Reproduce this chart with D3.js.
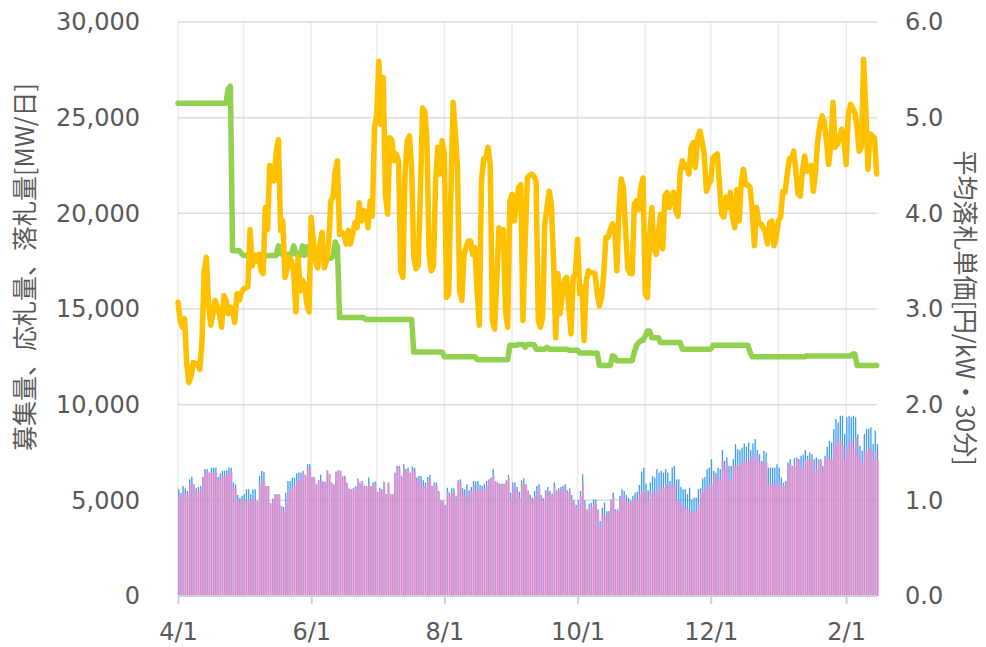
<!DOCTYPE html>
<html><head><meta charset="utf-8">
<script src="https://cdn.jsdelivr.net/npm/d3@7"></script>
<style>body{margin:0;background:#fff}</style>
</head><body><svg id="c" width="986" height="647"></svg>
<script>
// ---------------- DATA ----------------
const startDate = new Date(2021, 3, 1); // 4/1
const leftTicks = [0, 5000, 10000, 15000, 20000, 25000, 30000];
const rightTicks = [0, 1, 2, 3, 4, 5, 6];
const xTickLabels = ["4/1", "6/1", "8/1", "10/1", "12/1", "2/1"];
const leftTitle = "募集量、応札量、落札量[MW/日]";
const rightTitle = "平均落札単価[円/kW・30分]";

// 募集量 [MW/日] (blue bars)
const recruit = [
5580,5400,5750,5630,5490,6100,6220,5840,5630,5700,
5750,6220,6630,6630,6450,6710,6710,6710,6220,6400,
6540,6540,6570,6710,6710,5930,5840,5280,5140,5230,
5320,5580,5580,5320,5580,5580,4970,6280,6540,6500,
5750,5750,4880,5090,5320,5320,5320,4700,4650,5400,
6010,6010,6190,6190,6400,6450,6450,6540,6330,6890,
6890,6220,6220,5840,6050,6330,5980,5960,6570,6360,
5930,5840,6500,6570,6540,6280,6280,5930,5630,5580,
5660,5750,6140,5930,6010,5750,5750,6190,5750,5930,
5980,5450,5660,5580,5980,5320,5930,5320,5320,6450,
6800,6800,6280,6890,6630,6710,6450,6770,6710,6190,
6280,6280,6050,5930,6220,6330,5750,5930,5930,5490,
5000,5000,4760,5660,5400,5630,5630,5230,6050,6100,
5630,5580,5840,5520,5700,6010,5980,6010,5800,5750,
5840,6010,6100,6190,6630,6010,5930,5870,5870,5870,
6050,6330,5400,5930,5930,5700,5450,6050,6150,5840,
5520,5280,5140,5490,5750,5840,5280,5100,5520,5700,
5490,5350,5930,5520,5630,5700,5750,5840,5520,5630,
5280,5000,4760,5000,5490,6360,5000,4530,4830,4880,
5050,5050,4530,3920,4620,4880,4440,4440,5050,5400,
4530,4530,5230,5580,5490,5280,5140,5000,5230,5400,
5450,5800,6500,6710,5870,5520,5930,6280,6190,6630,
6450,6540,6450,6630,6450,6010,6710,6800,6100,6100,
5700,5580,5580,5320,5660,5050,5140,5140,5580,5630,
6150,6220,6630,6710,7150,6540,6450,6710,6630,7620,
7060,7240,6800,6800,7150,7940,7670,7620,7760,7970,
7800,8020,7620,7970,8200,7620,7410,7060,7590,7500,
6710,6710,6710,6710,6890,6710,6190,5930,6010,6980,
7150,6800,7200,7240,7150,7330,7380,7620,7330,7500,
7410,7150,7240,7150,7150,6800,7330,7800,8110,8020,
8720,9250,9070,9420,9420,8460,9340,9420,9340,9420,
9340,8460,7850,7590,8460,8720,8720,8810,7940,8640,
7940
];

// 落札量 [MW/日] (pink bars)
const awarded = [
5230,5140,5490,5400,5320,5840,5930,5660,5450,5490,
5580,6220,6540,6450,6450,6450,6450,6450,6010,6220,
6280,6280,6330,6450,6500,5660,5630,4970,4930,5000,
5000,5000,5050,4970,5140,4970,4930,5750,6100,6010,
5700,5700,4830,5000,5280,5280,5280,4650,4440,4880,
5400,5450,5660,5750,6010,6050,6280,6400,6280,6710,
6710,6190,6150,5750,6050,6010,5980,5930,6570,6360,
5870,5800,6450,6570,6540,6220,6190,5840,5580,5520,
5580,5700,6050,5840,5930,5700,5700,5840,5700,5840,
5930,5400,5580,5520,5930,5320,5930,5320,5320,6400,
6750,6710,6190,6800,6500,6540,6360,6630,6540,6010,
6190,5840,5750,5660,6010,6050,5580,5840,5750,5400,
4970,4970,4700,5490,5230,5400,5450,4970,5930,5930,
5400,5230,5490,5140,5490,5840,5490,5660,5520,5580,
5630,5750,6050,6100,6280,6010,5870,5840,5840,5840,
6010,6190,5140,5660,5630,5450,5140,5840,5930,5750,
5400,5100,4970,5230,5400,5630,5140,4970,5400,5450,
5320,5230,5750,5450,5520,5580,5580,5700,5400,5520,
5050,4830,4580,4830,5230,5930,4790,4440,4620,4650,
4790,4830,4440,3600,4270,4180,4350,4350,5000,5140,
4440,4440,5050,5230,5140,4970,4880,4880,5050,5140,
5000,5320,5400,5490,5490,4970,5400,5490,5350,5490,
5840,5520,5660,5840,5750,5660,5840,5750,4970,4970,
4790,4700,4620,4530,4440,4350,4410,4440,4790,5400,
5490,5580,5660,5750,5840,6360,6280,6010,6100,7060,
6630,6980,6100,6100,6800,6800,6800,6890,6980,7060,
6980,7060,7330,7150,7410,7330,6980,6980,6980,6980,
5840,5840,5840,5840,5840,5930,5700,5750,5930,6890,
6890,6710,6800,7150,7060,6710,6710,7060,7150,7150,
7150,6540,6570,7060,7060,6630,7150,7330,7150,7150,
7850,8200,8110,8110,7850,7150,7760,8110,8110,7670,
8290,7410,7150,6890,7500,7590,7760,7670,7150,7590,
7150
];

// 平均落札単価 [円/kW・30分] (orange line)
const avgPrice = [
3.07,2.88,2.81,2.90,2.43,2.23,2.30,2.44,2.43,2.42,
2.37,2.67,3.40,3.54,3.05,2.83,2.95,3.09,3.02,2.95,
2.81,3.14,3.09,2.95,3.02,2.98,2.86,3.16,3.09,3.17,
3.21,3.22,3.23,3.83,3.45,3.56,3.50,3.57,3.40,3.37,
4.06,3.83,4.50,4.36,4.34,4.65,4.77,3.82,3.92,3.33,
3.42,3.54,3.50,3.37,2.97,3.54,3.19,3.30,3.26,3.05,
2.97,3.96,3.71,3.50,3.43,3.68,3.80,3.43,3.50,3.68,
4.13,4.17,4.44,4.55,3.78,3.80,3.78,3.68,3.82,3.68,
3.78,3.90,3.85,4.11,3.92,4.03,4.01,3.85,4.13,3.97,
4.90,5.02,5.59,4.93,5.42,4.20,3.99,4.79,4.76,4.55,
4.62,4.55,3.40,3.33,4.41,4.76,4.81,4.48,3.54,3.42,
3.45,4.20,5.10,5.07,4.79,3.57,3.40,3.45,4.34,4.69,
4.41,4.76,4.62,3.12,3.16,4.23,5.16,4.86,4.48,3.19,
3.09,3.57,3.65,3.71,3.71,3.57,3.64,3.19,2.83,4.34,
4.57,4.58,4.69,4.51,2.88,2.79,3.30,3.85,3.78,3.83,
2.98,2.81,4.13,4.20,3.92,4.10,4.27,4.30,2.88,3.71,
4.37,4.40,4.41,4.39,4.34,2.88,2.81,2.91,3.89,4.06,
4.23,4.10,3.50,2.70,3.37,2.95,3.16,3.30,3.33,3.02,
2.74,3.33,3.37,3.73,3.16,3.23,2.67,3.30,3.40,3.38,
3.38,3.37,3.16,3.03,3.12,3.37,3.75,3.75,3.83,3.89,
3.85,3.40,4.06,4.36,4.27,3.82,3.43,3.37,3.37,4.10,
4.13,4.04,4.27,4.37,3.16,3.12,3.75,4.06,3.64,3.57,
3.78,3.99,3.63,4.18,4.22,4.06,4.17,4.22,4.03,3.97,
4.44,4.55,4.48,4.51,4.41,4.69,4.74,4.48,4.79,4.86,
4.76,4.62,4.23,4.30,4.34,4.58,4.60,4.62,4.30,3.99,
3.96,4.17,4.06,4.22,3.96,3.85,4.25,3.92,4.34,4.46,
4.30,4.30,4.27,4.03,3.66,4.06,3.90,3.89,3.85,3.80,
3.68,3.90,3.92,3.66,3.75,3.92,3.96,4.23,4.22,4.40,
4.57,4.57,4.65,4.44,4.20,4.18,4.44,4.60,4.44,4.47,
4.50,4.23,4.44,4.76,4.93,5.02,4.95,4.76,4.51,4.72,
5.16,4.69,4.72,4.79,4.88,4.76,4.51,5.03,5.14,5.10,
5.05,4.90,4.65,4.69,5.61,5.10,4.46,4.83,4.81,4.79,
4.41
];

// green line (right-axis units)
const greenLine = [
5.15,5.15,5.15,5.15,5.15,5.15,5.15,5.15,5.15,5.15,
5.15,5.15,5.15,5.15,5.15,5.15,5.15,5.15,5.15,5.15,
5.15,5.15,5.15,5.30,5.33,3.61,3.61,3.61,3.61,3.58,
3.56,3.56,3.56,3.56,3.56,3.56,3.56,3.56,3.56,3.56,
3.56,3.56,3.56,3.56,3.56,3.56,3.66,3.58,3.57,3.57,
3.57,3.57,3.57,3.66,3.58,3.56,3.56,3.66,3.56,3.65,
3.57,3.56,3.56,3.53,3.53,3.53,3.53,3.53,3.53,3.53,
3.53,3.55,3.70,3.65,2.91,2.91,2.91,2.91,2.91,2.91,
2.91,2.91,2.91,2.91,2.91,2.91,2.89,2.89,2.89,2.89,
2.89,2.89,2.89,2.89,2.89,2.89,2.89,2.89,2.89,2.89,
2.89,2.89,2.89,2.89,2.89,2.89,2.89,2.89,2.55,2.55,
2.55,2.55,2.55,2.55,2.55,2.55,2.55,2.55,2.55,2.55,
2.55,2.55,2.50,2.50,2.50,2.50,2.50,2.50,2.50,2.50,
2.50,2.50,2.50,2.50,2.50,2.50,2.50,2.47,2.47,2.47,
2.47,2.47,2.47,2.47,2.47,2.47,2.47,2.47,2.47,2.47,
2.47,2.47,2.62,2.62,2.62,2.62,2.63,2.63,2.63,2.60,
2.63,2.63,2.63,2.63,2.58,2.58,2.58,2.58,2.58,2.60,
2.58,2.58,2.58,2.58,2.58,2.58,2.58,2.58,2.58,2.57,
2.57,2.57,2.57,2.57,2.54,2.54,2.54,2.54,2.54,2.54,
2.54,2.54,2.54,2.41,2.41,2.41,2.41,2.41,2.41,2.51,
2.50,2.46,2.46,2.46,2.46,2.46,2.46,2.46,2.46,2.55,
2.62,2.65,2.67,2.67,2.72,2.77,2.77,2.70,2.70,2.70,
2.70,2.65,2.65,2.65,2.65,2.65,2.65,2.65,2.65,2.65,
2.65,2.58,2.58,2.58,2.58,2.58,2.58,2.58,2.58,2.58,
2.58,2.58,2.58,2.58,2.58,2.62,2.62,2.62,2.62,2.62,
2.62,2.62,2.62,2.62,2.62,2.62,2.62,2.62,2.62,2.62,
2.62,2.62,2.55,2.50,2.50,2.50,2.50,2.50,2.50,2.50,
2.50,2.50,2.50,2.50,2.50,2.50,2.50,2.50,2.50,2.50,
2.50,2.50,2.50,2.50,2.50,2.50,2.50,2.50,2.51,2.51,
2.51,2.51,2.51,2.51,2.51,2.51,2.51,2.51,2.51,2.51,
2.51,2.51,2.51,2.51,2.51,2.51,2.51,2.51,2.51,2.53,
2.53,2.41,2.41,2.41,2.41,2.41,2.41,2.41,2.41,2.41,
2.41
];

// ---------------- CHART ----------------
const plot = {left: 178, right: 877, top: 22, bottom: 596};
const svg = d3.select("#c");
const font = "'DejaVu Sans','Noto Sans CJK JP',sans-serif";
const jpFont = "'Noto Sans CJK JP','DejaVu Sans',sans-serif";
const textColor = "#595959";

const dates = recruit.map((_, i) => d3.timeDay.offset(startDate, i));
const endDate = new Date(+startDate + 320.6 * 864e5);
const x = d3.scaleTime().domain([startDate, endDate]).range([plot.left, plot.right + 1]);
const yL = d3.scaleLinear().domain([0, 30000]).range([plot.bottom, plot.top]);
const yR = d3.scaleLinear().domain([0, 6]).range([plot.bottom, plot.top]);

// vertical monthly gridlines
const months = d3.timeMonth.range(startDate, endDate);
svg.append("g").selectAll("line").data(months).join("line")
  .attr("x1", d => x(d)).attr("x2", d => x(d))
  .attr("y1", plot.top).attr("y2", plot.bottom)
  .attr("stroke", "#ebebeb").attr("stroke-width", 1.5);

// horizontal gridlines
svg.append("g").selectAll("line").data(leftTicks.filter(v => v > 0)).join("line")
  .attr("x1", plot.left).attr("x2", plot.right)
  .attr("y1", d => yL(d)).attr("y2", d => yL(d))
  .attr("stroke", "#dcdcdc").attr("stroke-width", 1.5);

// bars
const dayW = x(d3.timeDay.offset(startDate, 1)) - x(startDate);
const bars = svg.append("g");
bars.selectAll("rect.b").data(recruit).join("rect").attr("class", "b")
  .attr("x", (d, i) => x(dates[i]) + 0.1)
  .attr("width", dayW * 0.6)
  .attr("y", d => yL(d)).attr("height", d => yL(0) - yL(d))
  .attr("fill", "#3d9cf5");
bars.selectAll("rect.p").data(awarded).join("rect").attr("class", "p")
  .attr("x", (d, i) => x(dates[i]) + 0.1)
  .attr("width", dayW * 0.92)
  .attr("y", d => yL(d)).attr("height", d => yL(0) - yL(d))
  .attr("fill", "#f48cc6").attr("fill-opacity", 0.78);

// bottom axis line
svg.append("line").attr("x1", plot.left).attr("x2", plot.right)
  .attr("y1", plot.bottom).attr("y2", plot.bottom)
  .attr("stroke", "#d0d0d0").attr("stroke-width", 2);

// lines
const lineGen = d3.line().x((d, i) => x(dates[i])).y(d => yR(d)).curve(d3.curveLinear);
svg.append("path").datum(greenLine).attr("d", lineGen)
  .attr("fill", "none").attr("stroke", "#92d050").attr("stroke-width", 5.5)
  .attr("stroke-linejoin", "round").attr("stroke-linecap", "round");
svg.append("path").datum(avgPrice).attr("d", lineGen)
  .attr("fill", "none").attr("stroke", "#ffc000").attr("stroke-width", 5.5)
  .attr("stroke-linejoin", "round").attr("stroke-linecap", "round");

// axes
const tickMonths = months.filter((d, i) => i % 2 === 0);
const ax = svg.append("g").attr("transform", `translate(0,${plot.bottom})`)
  .call(d3.axisBottom(x).tickValues(tickMonths)
    .tickFormat((d, i) => xTickLabels[i]).tickSize(8).tickPadding(19));
ax.select(".domain").remove();
ax.selectAll("line").attr("stroke", "#d0d0d0").attr("stroke-width", 2);

const al = svg.append("g").attr("transform", `translate(${plot.left},0)`)
  .call(d3.axisLeft(yL).tickValues(leftTicks).tickFormat(d3.format(",")).tickSize(0).tickPadding(38));
al.select(".domain").remove();

const ar = svg.append("g").attr("transform", `translate(${plot.right},0)`)
  .call(d3.axisRight(yR).tickValues(rightTicks).tickFormat(d3.format(".1f")).tickSize(0).tickPadding(28));
ar.select(".domain").remove();

svg.selectAll(".tick text").attr("font-family", font).attr("font-size", 24).attr("fill", textColor);

// axis titles
svg.append("text").attr("transform", "translate(34,267) rotate(-90)")
  .attr("text-anchor", "middle").attr("font-family", jpFont).attr("font-size", 25)
  .attr("fill", textColor).text(leftTitle);
svg.append("text").attr("transform", "translate(956,308) rotate(90)")
  .attr("text-anchor", "middle").attr("font-family", jpFont).attr("font-size", 25)
  .attr("fill", textColor).text(rightTitle);
</script>
</body></html>
